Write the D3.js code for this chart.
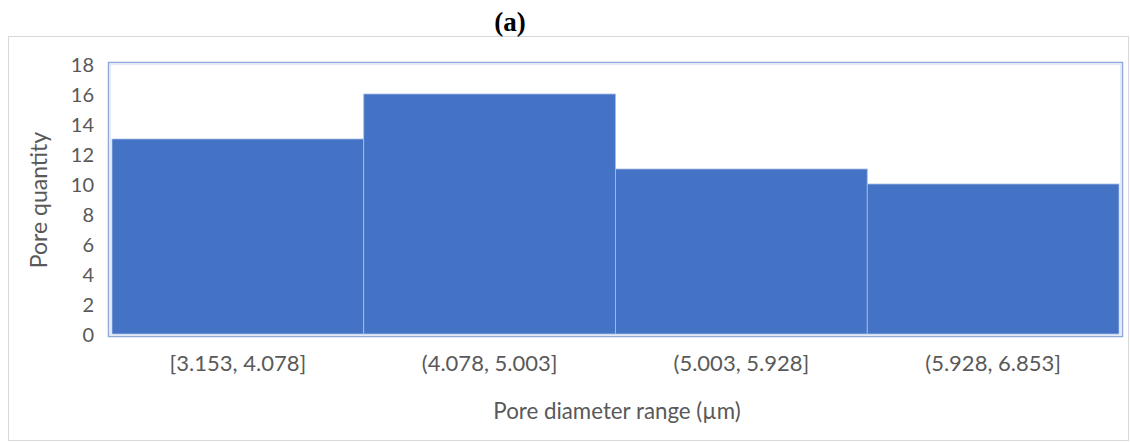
<!DOCTYPE html>
<html>
<head>
<meta charset="utf-8">
<script src="https://cdn.jsdelivr.net/npm/d3@7"></script>
<style>
  html, body { margin: 0; padding: 0; background: #fff; }
  svg { display: block; }
  text { font-family: Lato, "Open Sans", sans-serif; fill: #595959; }
</style>
</head>
<body>
<svg id="chart" width="1130" height="442"></svg>
<script>
// Histogram of pore diameters
const categories = ["[3.153, 4.078]", "(4.078, 5.003]", "(5.003, 5.928]", "(5.928, 6.853]"];
const poreCounts = [13, 16, 11, 10];
const yTicks = [0, 2, 4, 6, 8, 10, 12, 14, 16, 18];

const svg = d3.select("#chart");

// outer chart frame
svg.append("rect")
  .attr("x", 8.5).attr("y", 36.5)
  .attr("width", 1120).attr("height", 404)
  .attr("fill", "#fff").attr("stroke", "#d9d9d9").attr("stroke-width", 1);

// panel title
svg.append("text")
  .attr("x", 510).attr("y", 31)
  .attr("text-anchor", "middle")
  .style("font-family", "'Liberation Serif', 'DejaVu Serif', serif")
  .style("font-weight", "bold").style("font-size", "27px").style("fill", "#000")
  .text("(a)");

const plot = { left: 112, right: 1119, top: 64, bottom: 334 };

const x = d3.scaleBand().domain(categories).range([plot.left, plot.right]).padding(0);
const y = d3.scaleLinear().domain([0, 18]).range([plot.bottom, plot.top]);

// plot area border
svg.append("rect")
  .attr("x", 108.5).attr("y", 62.5)
  .attr("width", 1014).attr("height", 274)
  .attr("fill", "none").attr("stroke", "#8eaadb").attr("stroke-width", 1.5);
svg.append("rect")
  .attr("x", 110.5).attr("y", 64.5)
  .attr("width", 1010).attr("height", 270.5)
  .attr("fill", "none").attr("stroke", "#e4e9f2").attr("stroke-width", 1);

// bars
svg.append("g").selectAll("rect")
  .data(categories)
  .join("rect")
  .attr("x", d => x(d))
  .attr("y", (d, i) => y(poreCounts[i]))
  .attr("width", x.bandwidth())
  .attr("height", (d, i) => y(0) - y(poreCounts[i]))
  .attr("fill", "#4472c4")
  .attr("stroke", "#a9bde6").attr("stroke-width", 0.8);

// y axis labels
const yAxis = d3.axisLeft(y).tickValues(yTicks).tickSize(0).tickPadding(0);
const gy = svg.append("g").attr("transform", "translate(94,1)").call(yAxis);
gy.select(".domain").remove();
gy.selectAll("text").style("font-size", "20px").style("font-family", "Lato, sans-serif").attr("fill", "#595959");

// x axis labels
const xAxis = d3.axisBottom(x).tickSize(0).tickPadding(0);
const gx = svg.append("g").attr("transform", "translate(0,355)").call(xAxis);
gx.select(".domain").remove();
gx.selectAll("text").style("font-size", "22px").style("font-family", "Lato, sans-serif").attr("fill", "#595959");

// axis titles
svg.append("text")
  .attr("x", 617).attr("y", 419)
  .attr("text-anchor", "middle")
  .style("font-size", "22.3px")
  .text("Pore diameter range (µm)");

svg.append("text")
  .attr("transform", "translate(47,200) rotate(-90)")
  .attr("text-anchor", "middle")
  .style("font-size", "23px")
  .text("Pore quantity");
</script>
</body>
</html>
